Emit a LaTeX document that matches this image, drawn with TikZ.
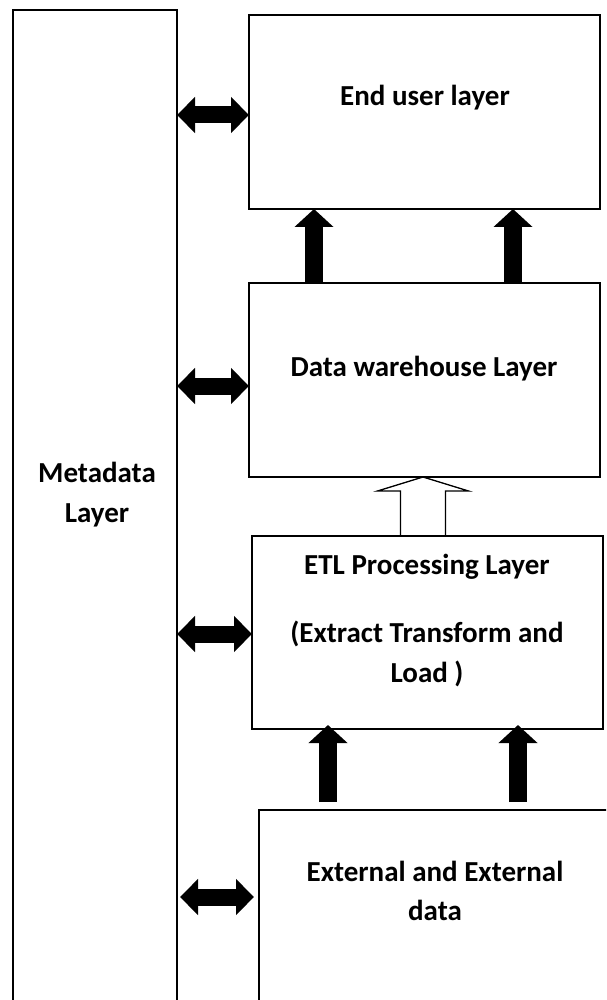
\documentclass[tikz,border=0pt]{standalone}
\usepackage{fontspec}
\setmainfont{Carlito}
\usetikzlibrary{arrows.meta,calc}
\begin{document}
\begin{tikzpicture}[x=1pt,y=-1pt,
  box/.style={draw, line width=2pt, inner sep=0pt, outer sep=0pt},
  lbl/.style={font=\bfseries\fontsize{29}{40}\selectfont, anchor=base, inner sep=0pt},
  uparrow/.style={line width=18pt, -{Triangle[width=38pt,length=18pt]}},
  dblarrow/.style={line width=17pt, {Triangle[width=35pt,length=18pt]}-{Triangle[width=35pt,length=18pt]}},
  hollow/.style={draw, line width=1.3pt, line join=miter}
]
\useasboundingbox (0,0) rectangle (606,1000);
\clip (0,0) rectangle (606,1000);

% boxes
\node[box, minimum width=164pt, minimum height=1010pt] (meta) at (95,515) {};
\node[box, minimum width=351pt, minimum height=194pt] (eu) at (424.5,112) {};
\node[box, minimum width=351pt, minimum height=194pt] (dw) at (424.5,380) {};
\node[box, minimum width=351pt, minimum height=193pt] (etl) at (427.5,632.5) {};
\node[box, minimum width=352pt, minimum height=210pt] (ext) at (435,915) {};

% labels
\node[lbl] (t-eu) at (425,106) {End user layer};
\node[lbl] (t-dw) at (424,376) {Data warehouse Layer};
\node[lbl] (t-etl1) at (427,574) {ETL Processing Layer};
\node[lbl] (t-etl2) at (427,642) {(Extract Transform and};
\node[lbl] (t-etl3) at (427,682) {Load )};
\node[lbl] (t-ext1) at (435,881) {External and External};
\node[lbl] (t-ext2) at (435,920) {data};
\node[lbl] (t-meta1) at (97,482) {Metadata};
\node[lbl] (t-meta2) at (97,522) {Layer};

% up arrows DW -> EU
\draw[uparrow] ($(dw.north west)+(65,0)$) -- ($(eu.south west)+(65,0)$);
\draw[uparrow] ($(dw.north west)+(264,0)$) -- ($(eu.south west)+(264,0)$);

% up arrows EXT -> ETL
\draw[uparrow] ($(ext.north west)+(69,-8)$) -- ($(etl.south west)+(76,-4)$);
\draw[uparrow] ($(ext.north west)+(259,-8)$) -- ($(etl.south west)+(266,-4)$);

% hollow arrow ETL -> DW
\coordinate (ht) at ($(dw.south)+(-1.5,0)$);
\coordinate (hb) at (ht |- etl.north);
\draw[hollow] (ht) -- ($(ht)+(45.5,14)$) -- ($(ht)+(22.5,14)$)
  -- ($(hb)+(22.5,0)$) -- ($(hb)+(-22.5,0)$)
  -- ($(ht)+(-22.5,14)$) -- ($(ht)+(-45.5,14)$) -- cycle;

% double arrows to metadata
\coordinate (y1) at (0,115);
\coordinate (y2) at (0,386);
\coordinate (y3) at (0,634);
\coordinate (y4) at (0,897);
\draw[dblarrow] (meta.east |- y1) -- (eu.west |- y1);
\draw[dblarrow] (meta.east |- y2) -- (dw.west |- y2);
\draw[dblarrow] (meta.east |- y3) -- (etl.west |- y3);
\draw[dblarrow, shorten <=3pt, shorten >=5pt] (meta.east |- y4) -- (ext.west |- y4);
\end{tikzpicture}
\end{document}
